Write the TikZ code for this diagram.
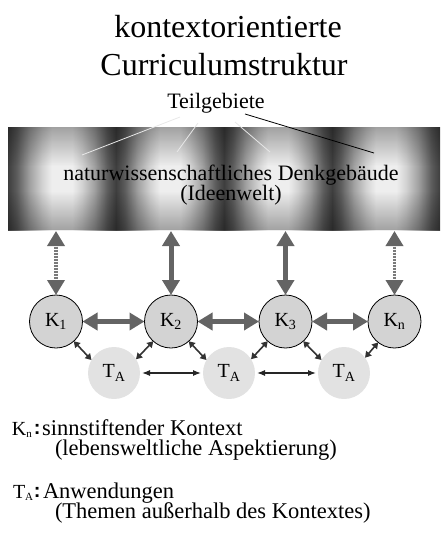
\documentclass[tikz,border=0pt]{standalone}
\usepackage{fontspec}
\setmainfont{Liberation Serif}
\newfontfamily\doppelpunkt{Liberation Sans}
\usetikzlibrary{arrows.meta,fadings}
\definecolor{kgrau}{HTML}{D3D3D3}
\definecolor{tgrau}{HTML}{E2E2E2}
\definecolor{pfgrau}{HTML}{646464}
\definecolor{pfraster}{HTML}{7A7A7A}
\definecolor{bd}{HTML}{3E3E3E}
\definecolor{bm}{HTML}{5C5C5C}
\definecolor{bg}{HTML}{A0A0A0}
\definecolor{bl}{HTML}{D4D4D4}
\definecolor{bh}{HTML}{EEEEEE}
% streifen: band liegt zwischen 25bp und 75bp, vier helle felder
\pgfdeclarehorizontalshading{streifen}{100bp}{color(0bp)=(bd); color(25bp)=(bd);
  color(26bp)=(bm); color(27.5bp)=(bg); color(29bp)=(bl); color(30.05bp)=(bh); color(32.45bp)=(bh); color(33.5bp)=(bl); color(35bp)=(bg); color(36.5bp)=(bm); color(37.5bp)=(bd);
  color(38.5bp)=(bm); color(40bp)=(bg); color(41.5bp)=(bl); color(42.55bp)=(bh); color(44.95bp)=(bh); color(46bp)=(bl); color(47.5bp)=(bg); color(49bp)=(bm); color(50bp)=(bd);
  color(51bp)=(bm); color(52.5bp)=(bg); color(54bp)=(bl); color(55.05bp)=(bh); color(57.45bp)=(bh); color(58.5bp)=(bl); color(60bp)=(bg); color(61.5bp)=(bm); color(62.5bp)=(bd);
  color(63.5bp)=(bm); color(65bp)=(bg); color(66.5bp)=(bl); color(67.55bp)=(bh); color(69.95bp)=(bh); color(71bp)=(bl); color(72.5bp)=(bg); color(74bp)=(bm); color(75bp)=(bd);
  color(100bp)=(bd)}
\tikzfading[name=oben dicht,top color=transparent!0,bottom color=transparent!100]
\tikzfading[name=unten dicht,top color=transparent!100,bottom color=transparent!0]
\newcommand{\tief}[1]{{\fontsize{11}{11}\selectfont\raisebox{-2.5pt}{#1}}}
\tikzset{px/.style={x=1pt,y=-1pt,every node/.style={inner sep=0pt,outer sep=0pt}}}
\tikzset{
  kontext/.style={circle,draw=black,line width=0.8pt,fill=kgrau,minimum size=53pt,font=\fontsize{20}{22}\selectfont},
  thema/.style={circle,fill=tgrau,minimum size=52pt,font=\fontsize{20}{22}\selectfont},
  pfeilgross/.style={pfgrau,line width=5pt,{Triangle[length=15pt,width=17pt]}-{Triangle[length=15pt,width=17pt]}},
  pfeilraster/.style={pfraster,line width=3.5pt,dash pattern=on 1pt off 0.5pt,
    {Triangle[length=15pt,width=17pt,color=pfgrau]}-{Triangle[length=15pt,width=17pt,color=pfgrau]}},
  pfeilklein/.style={black!80,line width=1.6pt,{Triangle[length=6pt,width=7pt]}-{Triangle[length=6pt,width=7pt]}},
  pfeilduenn/.style={black!85,line width=1.2pt,shorten <=2pt,shorten >=2pt,{Latex[length=8pt,width=6pt]}-{Latex[length=8pt,width=6pt]}},
  zeiger/.style={line width=0.8pt},
  legende/.style={anchor=base west,font=\fontsize{22.5}{20}\selectfont},
  punkt/.style={anchor=base west,font=\doppelpunkt\bfseries\fontsize{20}{20}\selectfont},
}

\begin{document}
\begin{tikzpicture}[px]
  \useasboundingbox (0,0) rectangle (440,539);
  % --- titel
  \node[anchor=base,font=\fontsize{32}{38}\selectfont] (titel1) at (228,37) {kontextorientierte};
  \node[anchor=base,font=\fontsize{32}{38}\selectfont] (titel2) at (224,75) {Curriculumstruktur};
  \node[anchor=base,font=\fontsize{22}{22}\selectfont] (teil) at (216,108) {Teilgebiete};
  % --- band: helle streifen, oben und unten abgedunkelt
  \shade[shading=streifen] (8,127) rectangle (440,230);
  \fill[black,opacity=0.32,path fading=oben dicht] (8,127) rectangle (440,166);
  \fill[black,opacity=0.32,path fading=unten dicht] (8,191) rectangle (440,230);
  \coordinate (bandunten) at (0,231);
  \node[anchor=base,font=\fontsize{22}{20}\selectfont] (ideen) at (231,180) {naturwissenschaftliches Denkgebäude};
  \node[anchor=base,font=\fontsize{22}{20}\selectfont] (ideen2) at (231,200) {(Ideenwelt)};
  % zeiger von den teilgebieten
  \coordinate (z1a) at (180,117); \coordinate (z1b) at (82,155);
  \coordinate (z2a) at (198,123); \coordinate (z2b) at (177,152);
  \coordinate (z3a) at (235,122); \coordinate (z3b) at (270,152);
  \coordinate (z4a) at (245,114); \coordinate (z4b) at (374,153);
  \draw[zeiger,gray!18] (z1a) -- (z1b);
  \draw[zeiger,gray!18] (z2a) -- (z2b);
  \draw[zeiger,gray!18] (z3a) -- (z3b);
  \draw[zeiger,black] (z4a) -- (z4b);
  % --- kontexte
  \node[kontext] (K1) at (56,321.5) {K\textsubscript{1}};
  \node[kontext] (K2) at (171,321.5) {K\textsubscript{2}};
  \node[kontext] (K3) at (285.5,321.5) {K\textsubscript{3}};
  \node[kontext] (Kn) at (394.5,321.5) {K\textsubscript{n}};
  % --- anwendungen
  \node[thema] (T1) at (114,373) {T\textsubscript{A}};
  \node[thema] (T2) at (229,373) {T\textsubscript{A}};
  \node[thema] (T3) at (344,373) {T\textsubscript{A}};
  % --- pfeile
  \draw[pfeilraster] (K1 |- bandunten) -- (K1.north);
  \draw[pfeilgross] (K2 |- bandunten) -- (K2.north);
  \draw[pfeilgross] (K3 |- bandunten) -- (K3.north);
  \draw[pfeilraster] (Kn |- bandunten) -- (Kn.north);
  \draw[pfeilgross] (K1) -- (K2);
  \draw[pfeilgross] (K2) -- (K3);
  \draw[pfeilgross] (K3) -- (Kn);
  \draw[pfeilklein] (K1.-48) -- (T1.150);
  \draw[pfeilklein] (K2.228) -- (T1.32);
  \draw[pfeilklein] (K2.-48) -- (T2.150);
  \draw[pfeilklein] (K3.228) -- (T2.32);
  \draw[pfeilklein] (K3.-48) -- (T3.150);
  \draw[pfeilklein] (Kn.232) -- (T3.36);
  \draw[pfeilduenn] (T1) -- (T2);
  \draw[pfeilduenn] (T2) -- (T3);
  % --- legende
  \node[legende,font=\fontsize{20}{20}\selectfont] (lk) at (12,435) {K\tief{n}};
  \node[punkt] (lkp) at (34,434) {:};
  \node[legende] (lk1) at (42,435) {sinnstiftender Kontext};
  \node[legende] (lk2) at (55,455) {(lebensweltliche Aspektierung)};
  \node[legende,font=\fontsize{20}{20}\selectfont] (lt) at (13,498) {T\tief{A}};
  \node[punkt] (ltp) at (34,497) {:};
  \node[legende] (lt1) at (43,498) {Anwendungen};
  \node[legende] (lt2) at (55,518) {(Themen außerhalb des Kontextes)};
\end{tikzpicture}
\end{document}
